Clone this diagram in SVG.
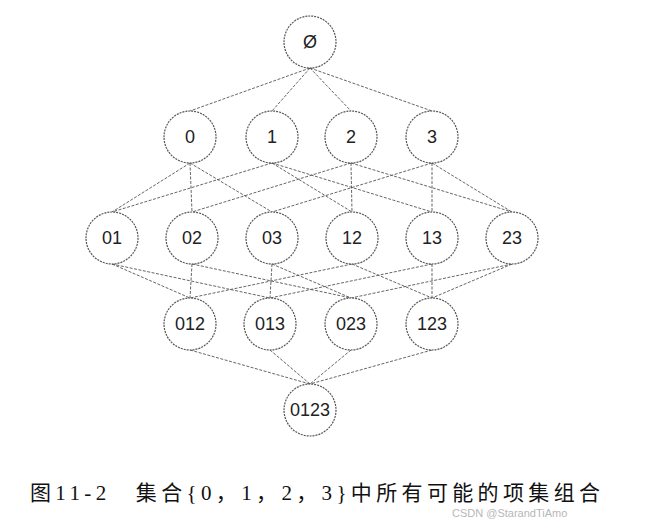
<svg xmlns="http://www.w3.org/2000/svg" width="647" height="521" viewBox="0 0 647 521">
<style>
.n circle{fill:#fff;stroke:#555;stroke-width:1.2;stroke-dasharray:2 1}
.n text{font-family:"Liberation Sans",Arial,sans-serif;font-size:18px;fill:#222;text-anchor:middle;dominant-baseline:central}
#edges line{stroke:#555;stroke-width:0.9;stroke-dasharray:3 1.5}
</style>
<rect width="647" height="521" fill="#fff"/>
<g id="edges">
<line x1="310" y1="68" x2="190" y2="111"/><line x1="310" y1="68" x2="272" y2="111"/><line x1="310" y1="68" x2="351" y2="111"/><line x1="310" y1="68" x2="432" y2="111"/>
<line x1="190" y1="163" x2="112" y2="212"/><line x1="190" y1="163" x2="192" y2="212"/><line x1="190" y1="163" x2="272" y2="212"/>
<line x1="272" y1="163" x2="112" y2="212"/><line x1="272" y1="163" x2="352" y2="212"/><line x1="272" y1="163" x2="432" y2="212"/>
<line x1="351" y1="163" x2="192" y2="212"/><line x1="351" y1="163" x2="352" y2="212"/><line x1="351" y1="163" x2="512" y2="212"/>
<line x1="432" y1="163" x2="272" y2="212"/><line x1="432" y1="163" x2="432" y2="212"/><line x1="432" y1="163" x2="512" y2="212"/>
<line x1="112" y1="264" x2="190" y2="298"/><line x1="112" y1="264" x2="270" y2="298"/>
<line x1="192" y1="264" x2="190" y2="298"/><line x1="192" y1="264" x2="351" y2="298"/>
<line x1="272" y1="264" x2="270" y2="298"/><line x1="272" y1="264" x2="351" y2="298"/>
<line x1="352" y1="264" x2="190" y2="298"/><line x1="352" y1="264" x2="432" y2="298"/>
<line x1="432" y1="264" x2="270" y2="298"/><line x1="432" y1="264" x2="432" y2="298"/>
<line x1="512" y1="264" x2="351" y2="298"/><line x1="512" y1="264" x2="432" y2="298"/>
<line x1="190" y1="350" x2="310" y2="384"/><line x1="270" y1="350" x2="310" y2="384"/><line x1="351" y1="350" x2="310" y2="384"/><line x1="432" y1="350" x2="310" y2="384"/>
</g>
<g id="n-empty" class="n"><circle cx="310" cy="42" r="26"/><text x="310" y="42">Ø</text></g>
<g id="n-0" class="n"><circle cx="190" cy="137" r="26"/><text x="190" y="137">0</text></g>
<g id="n-1" class="n"><circle cx="272" cy="137" r="26"/><text x="272" y="137">1</text></g>
<g id="n-2" class="n"><circle cx="351" cy="137" r="26"/><text x="351" y="137">2</text></g>
<g id="n-3" class="n"><circle cx="432" cy="137" r="26"/><text x="432" y="137">3</text></g>
<g id="n-01" class="n"><circle cx="112" cy="238" r="26"/><text x="112" y="238">01</text></g>
<g id="n-02" class="n"><circle cx="192" cy="238" r="26"/><text x="192" y="238">02</text></g>
<g id="n-03" class="n"><circle cx="272" cy="238" r="26"/><text x="272" y="238">03</text></g>
<g id="n-12" class="n"><circle cx="352" cy="238" r="26"/><text x="352" y="238">12</text></g>
<g id="n-13" class="n"><circle cx="432" cy="238" r="26"/><text x="432" y="238">13</text></g>
<g id="n-23" class="n"><circle cx="512" cy="238" r="26"/><text x="512" y="238">23</text></g>
<g id="n-012" class="n"><circle cx="190" cy="324" r="26"/><text x="190" y="324">012</text></g>
<g id="n-013" class="n"><circle cx="270" cy="324" r="26"/><text x="270" y="324">013</text></g>
<g id="n-023" class="n"><circle cx="351" cy="324" r="26"/><text x="351" y="324">023</text></g>
<g id="n-123" class="n"><circle cx="432" cy="324" r="26"/><text x="432" y="324">123</text></g>
<g id="n-0123" class="n"><circle cx="310" cy="410" r="26"/><text x="310" y="410">0123</text></g>
<text x="30" y="500" font-family="'Liberation Serif','Noto Sans CJK SC',serif" font-size="21" fill="#111" textLength="570" lengthAdjust="spacing">图11-2　集合{0，1，2，3}中所有可能的项集组合</text>
<text x="452" y="517" font-family="'Liberation Sans','Noto Sans CJK SC',sans-serif" font-size="11" fill="#999" opacity="0.7">CSDN @StarandTiAmo</text>
</svg>
